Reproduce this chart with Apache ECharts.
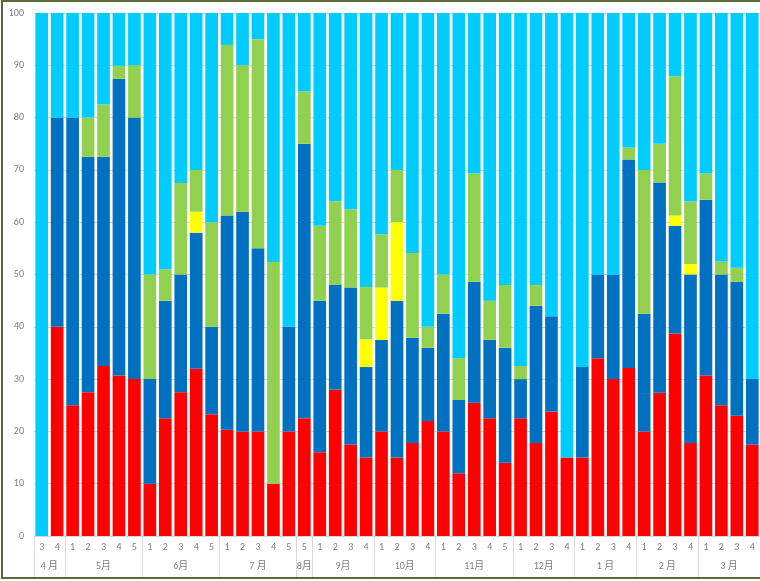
<!DOCTYPE html>
<html>
<head>
<meta charset="utf-8">
<title>chart</title>
<script src="https://cdn.jsdelivr.net/npm/echarts@6/dist/echarts.min.js"></script>
<style>
    html, body { margin: 0; padding: 0; background: #fff; }
    #main { width: 760px; height: 581px; }
</style>
</head>
<body>
<div id="main"></div>
<script>
// 周 / 月份分类
var weekLabels = ['3', '4',
    '1', '2', '3', '4', '5',
    '1', '2', '3', '4', '5',
    '1', '2', '3', '4', '5',
    '5',
    '1', '2', '3', '4',
    '1', '2', '3', '4',
    '1', '2', '3', '4', '5',
    '1', '2', '3', '4',
    '1', '2', '3', '4',
    '1', '2', '3', '4',
    '1', '2', '3', '4'];
var monthNames = ['4 月', '5月', '6月', '7 月', '8月', '9月', '10月', '11月', '12月', '1 月', '2 月', '3 月'];
var monthSpans = [2, 5, 5, 5, 1, 4, 4, 5, 4, 4, 4, 4];

// y轴刻度
var yTicks = [0, 10, 20, 30, 40, 50, 60, 70, 80, 90, 100];

// 各系列数据（百分比，从下往上堆叠）
var redData = [0, 40, 25, 27.5, 32.5, 30.7, 30, 10, 22.5, 27.5, 32, 23.3,
    20.3, 20, 20, 10, 20, 22.5, 16, 28, 17.5, 15, 20, 15, 17.8, 22,
    20, 12, 25.5, 22.5, 14, 22.5, 17.8, 23.8, 15, 15, 34, 30, 32.1,
    20, 27.4, 38.7, 17.8, 30.7, 25, 23, 17.5];
var blueData = [0, 40, 55, 45, 40, 56.7, 50, 20, 22.5, 22.5, 26, 16.7,
    41, 42, 35, 0, 20, 52.5, 29, 20, 30, 17.3, 17.5, 30, 20.1, 14,
    22.5, 14, 23.1, 15, 22, 7.5, 26.2, 18.2, 0, 17.3, 16, 20, 39.9,
    22.5, 40.2, 20.6, 32.2, 33.6, 25, 25.6, 12.5];
var yellowData = [0, 0, 0, 0, 0, 0, 0, 0, 0, 0, 4, 0,
    0, 0, 0, 0, 0, 0, 0, 0, 0, 5.3, 10, 15, 0, 0,
    0, 0, 0, 0, 0, 0, 0, 0, 0, 0, 0, 0, 0,
    0, 0, 2, 2, 0, 0, 0, 0];
var greenData = [0, 0, 0, 7.5, 10, 2.5, 10, 20, 6, 17.5, 8, 20,
    32.6, 28, 40, 42.4, 0, 10, 14.3, 16, 15, 10, 10.2, 10, 16.2, 4,
    7.5, 8, 20.7, 7.5, 12, 2.5, 4, 0, 0, 0, 0, 0, 2.3,
    27.5, 7.4, 26.6, 12, 5, 2.5, 2.7, 0];
var skyData = [100, 20, 20, 20, 17.5, 10.1, 10, 50, 49, 32.5, 30, 40,
    6.1, 10, 5, 47.6, 60, 15, 40.7, 36, 37.5, 52.4, 42.3, 30, 45.9, 60,
    50, 66, 30.7, 55, 52, 67.5, 52, 58, 85, 67.7, 50, 50, 25.7,
    30, 25, 12.1, 36, 30.7, 47.5, 48.7, 70];

// 月份分组的边界和中心位置
var monthBounds = [0];
var monthCenters = [];
var acc = 0;
for (var i = 0; i < monthSpans.length; i++) {
    monthCenters.push(acc + monthSpans[i] / 2);
    acc += monthSpans[i];
    monthBounds.push(acc);
}

var myChart = echarts.init(document.getElementById('main'));

function barSeries(name, color, data) {
    return {
        name: name,
        type: 'bar',
        stack: 'total',
        barCategoryGap: '18%',
        itemStyle: { color: color },
        data: data
    };
}

var font = 'Calibri, Carlito, "Noto Sans CJK SC", "Liberation Sans", sans-serif';

var option = {
    animation: false,
    textStyle: { fontFamily: font },
    grid: {
        left: 34,
        top: 13,
        width: 727,
        height: 523
    },
    graphic: [{
        type: 'rect',
        shape: { x: 2, y: 1, width: 780, height: 577 },
        style: { fill: null, stroke: '#566b35', lineWidth: 2 },
        silent: true
    }],
    xAxis: [{
        type: 'category',
        data: weekLabels,
        position: 'bottom',
        axisLine: { lineStyle: { color: '#d9d9d9' } },
        axisTick: { show: false },
        axisLabel: {
            interval: 0,
            color: '#7f7f7f',
            fontSize: 10,
            margin: 6
        }
    }, {
        // 月份标签（第二层）
        type: 'value',
        min: 0,
        max: weekLabels.length,
        position: 'bottom',
        axisLine: { show: false },
        splitLine: { show: false },
        axisTick: {
            show: true,
            length: 41,
            customValues: monthBounds,
            lineStyle: { color: '#d9d9d9' }
        },
        axisLabel: {
            color: '#7f7f7f',
            fontSize: 10,
            margin: 25,
            customValues: monthCenters,
            formatter: function (value) {
                var idx = monthCenters.indexOf(value);
                return idx >= 0 ? monthNames[idx] : '';
            }
        }
    }],
    yAxis: {
        type: 'value',
        min: yTicks[0],
        max: yTicks[yTicks.length - 1],
        interval: 10,
        axisLine: { show: false },
        axisTick: { show: false },
        axisLabel: { color: '#7f7f7f', fontSize: 10, margin: 10 },
        splitLine: { lineStyle: { color: '#d9d9d9' } }
    },
    series: [
        barSeries('红', '#ff0000', redData),
        barSeries('深蓝', '#0070c0', blueData),
        barSeries('黄', '#ffff00', yellowData),
        barSeries('绿', '#92d050', greenData),
        barSeries('浅蓝', '#00ccff', skyData)
    ]
};
myChart.setOption(option);
</script>
</body>
</html>
